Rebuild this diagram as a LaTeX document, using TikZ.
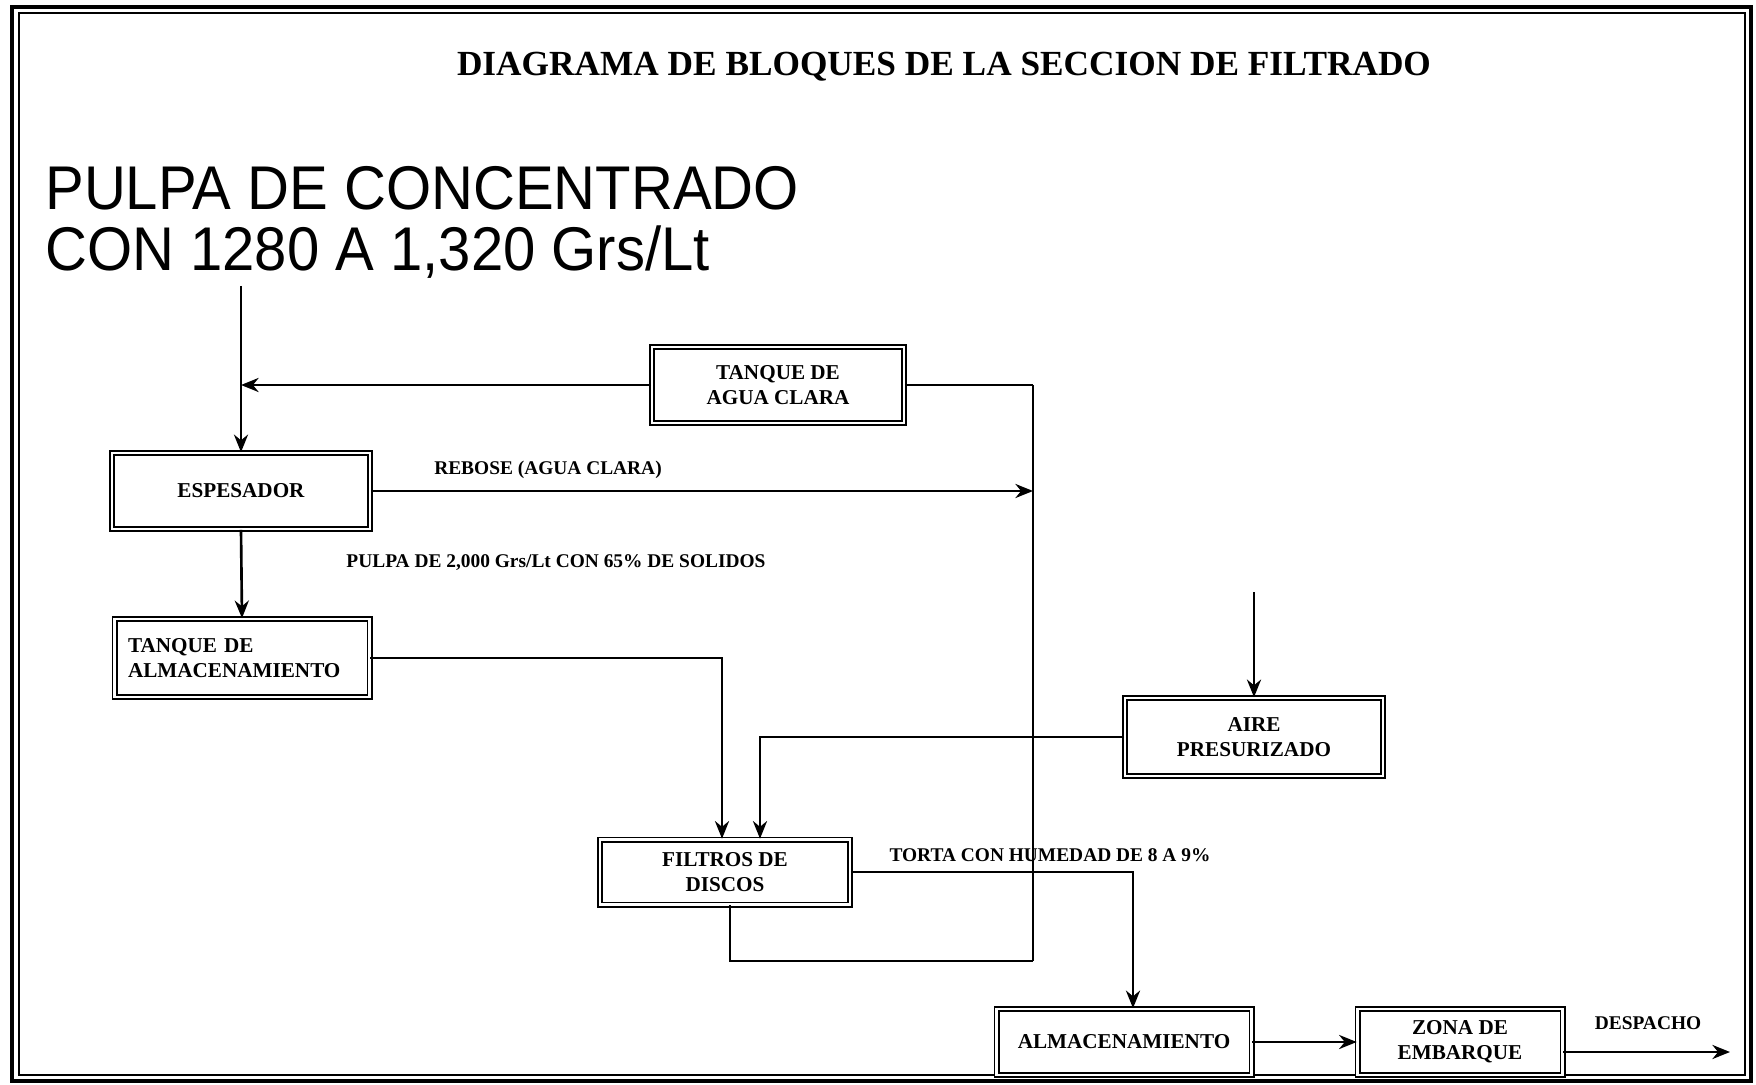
\documentclass[tikz,border=0pt]{standalone}
\usepackage{fontspec}
\setmainfont{Liberation Serif}
\newfontfamily\arialfont{Liberation Sans}
\usetikzlibrary{arrows.meta}
\begin{document}
\begin{tikzpicture}[x=0.5669pt,y=-0.5669pt,
  blk/.style 2 args={draw, double, double distance=1.6pt, line width=0.9pt,
    minimum width={#1*0.5669pt}, minimum height={#2*0.5669pt}, inner sep=2pt,
    font=\bfseries\fontsize{12}{14}\selectfont, align=center},
  conn/.style={line width=1.5pt},
  arr/.style={conn,-{Stealth[length=10pt,width=8pt]}},
  lbl/.style={font=\bfseries\fontsize{11}{13}\selectfont, inner sep=0pt},
  big/.style={anchor=north west, inner sep=0pt, font=\arialfont\fontsize{35}{35}\selectfont}]
\useasboundingbox (0,0) rectangle (1756,1085);
% frame
\draw[line width=2.2pt] (12,7) rectangle (1751,1081);
\draw[line width=0.6pt] (19,13) rectangle (1745,1075);
% title
\node[font=\bfseries\fontsize{20}{24}\selectfont] (title) at (944,67)
  {DIAGRAMA DE BLOQUES DE LA SECCION DE FILTRADO};
% feed text
\node[big] (pulpa) at (45,166) {\scalebox{0.94}[1]{PULPA DE CONCENTRADO}};
\node[big] (pulpb) at (45,225) {\scalebox{0.94}[1]{CON 1280 A 1,320 Grs/Lt}};
% blocks
\node[blk={252}{76}] (tagua) at (778,385) {TANQUE DE\\AGUA CLARA};
\node[blk={258}{76}] (esp) at (241,491) {ESPESADOR};
\node[blk={255}{78}, align=left, text width={228*0.5669pt}] (tq) at (242,658) {TANQUE DE\\ALMACENAMIENTO};
\node[blk={250}{65}] (fil) at (725,872) {FILTROS DE\\DISCOS};
\node[blk={258}{78}] (aire) at (1254,737) {AIRE\\PRESURIZADO};
\node[blk={255}{66}] (alm) at (1124,1042) {ALMACENAMIENTO};
\node[blk={205}{66}] (emb) at (1460,1042) {ZONA DE\\EMBARQUE};
% labels
\node[lbl] (lrebose) at (548,470) {REBOSE (AGUA CLARA)};
\node[lbl] (lpulpa) at (556,563) {PULPA DE 2,000 Grs/Lt CON 65\% DE SOLIDOS};
\node[lbl] (ltorta) at (1050,855) {TORTA CON HUMEDAD DE 8 A 9\%};
\node[lbl] (ldesp) at (1648,1023) {DESPACHO};
% coordinates
\coordinate (p0) at (241,286);
\coordinate (vtop) at (1033,385);
\coordinate (vbot) at (1033,961);
\coordinate (fa) at (722,0);
\coordinate (fb) at (760,0);
\coordinate (fc) at (1133,0);
\coordinate (fd) at (730,0);
\coordinate (airin) at (1254,592);
\coordinate (out) at (1730,1052);
% connectors
\draw[arr] (p0) -- (esp.north);
\draw[arr] (tagua.west) -- (tagua.west -| p0);
\draw[conn] (tagua.east) -- (tagua.east -| vtop);
\draw[conn] (vtop) -- (vbot);
\draw[arr] (esp.east) -- (esp.east -| vtop);
\draw[arr] (esp.south) -- (tq.north);
\draw[arr] (tq.east) -| (fa |- fil.north);
\draw[arr] (aire.west) -| (fb |- fil.north);
\draw[arr] (airin) -- (aire.north);
\draw[arr] (fil.east) -| (fc |- alm.north);
\draw[conn] (fd |- fil.south) |- (vbot);
\draw[arr] (alm.east) -- (emb.west);
\draw[arr] (emb.east |- out) -- (out);
\end{tikzpicture}
\end{document}
